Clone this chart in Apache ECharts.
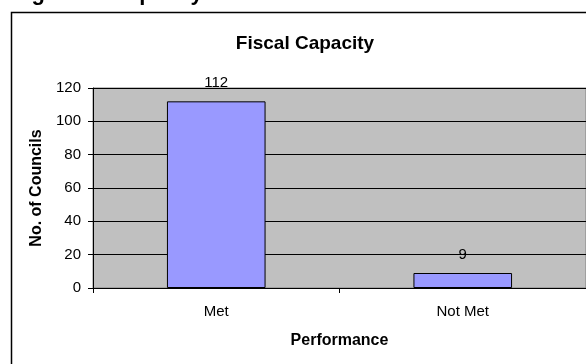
<!DOCTYPE html>
<html>
<head>
<meta charset="utf-8">
<style>
  html, body { margin: 0; padding: 0; background: #fff; }
  #chart { width: 586px; height: 364px; }
</style>
<script src="https://cdn.jsdelivr.net/npm/echarts@6/dist/echarts.min.js"></script>
</head>
<body>
<div id="chart"></div>
<script>
// Councils meeting the fiscal capacity criterion
const categories = ['Met', 'Not Met'];
const councils = [112, 9];
const yTicks = { min: 0, max: 120, interval: 20 };

const FONT = '"Liberation Sans", Arial, sans-serif';
const chart = echarts.init(document.getElementById('chart'), null, { renderer: 'canvas' });

chart.setOption({
  backgroundColor: '#ffffff',
  animation: false,
  textStyle: { fontFamily: FONT },
  graphic: [
    {
      type: 'text', silent: true,
      style: {
        x: 12, y: 5, verticalAlign: 'bottom',
        text: 'Figure 7: Capacity of Councils to Perform',
        font: 'bold 22px ' + FONT, fill: '#000'
      }
    },
    {
      type: 'rect', silent: true, z: -1,
      shape: { x: 11.5, y: 12.5, width: 620, height: 420 },
      style: { fill: 'none', stroke: '#000', lineWidth: 1.5 }
    }
  ],
  title: {
    text: 'Fiscal Capacity',
    left: 300, top: 29, textAlign: 'center',
    textStyle: { fontFamily: FONT, fontSize: 19, fontWeight: 'bold', color: '#000' }
  },
  grid: {
    left: 93, top: 88, right: -5, bottom: 76,
    show: true, backgroundColor: '#C0C0C0', borderColor: '#808080', borderWidth: 1,
    containLabel: false
  },
  xAxis: {
    type: 'category',
    data: categories,
    boundaryGap: true,
    name: 'Performance',
    nameLocation: 'middle',
    nameGap: 45,
    nameTextStyle: { fontFamily: FONT, fontSize: 16, fontWeight: 'bold', color: '#000' },
    axisLine: { show: true, lineStyle: { color: '#000', width: 1 } },
    axisTick: { show: true, inside: false, length: 5, alignWithLabel: false, lineStyle: { color: '#000' } },
    axisLabel: { color: '#000', fontSize: 15, fontFamily: FONT, margin: 16 },
    splitLine: { show: false }
  },
  yAxis: {
    type: 'value',
    min: yTicks.min, max: yTicks.max, interval: yTicks.interval,
    name: 'No. of Councils',
    nameLocation: 'middle',
    nameRotate: 90,
    nameGap: 46,
    nameTextStyle: { fontFamily: FONT, fontSize: 16, fontWeight: 'bold', color: '#000' },
    axisLine: { show: true, lineStyle: { color: '#000', width: 1 } },
    axisTick: { show: true, inside: false, length: 5, lineStyle: { color: '#000' } },
    axisLabel: { color: '#000', fontSize: 15, fontFamily: FONT, margin: 12 },
    splitLine: { show: true, lineStyle: { color: '#000', width: 1 } }
  },
  series: [{
    type: 'bar',
    data: councils,
    barWidth: '40%',
    itemStyle: { color: '#9999FF', borderColor: '#000', borderWidth: 1 },
    label: { show: true, position: 'top', distance: 11, color: '#000', fontSize: 15, fontFamily: FONT }
  }]
});
</script>
</body>
</html>
